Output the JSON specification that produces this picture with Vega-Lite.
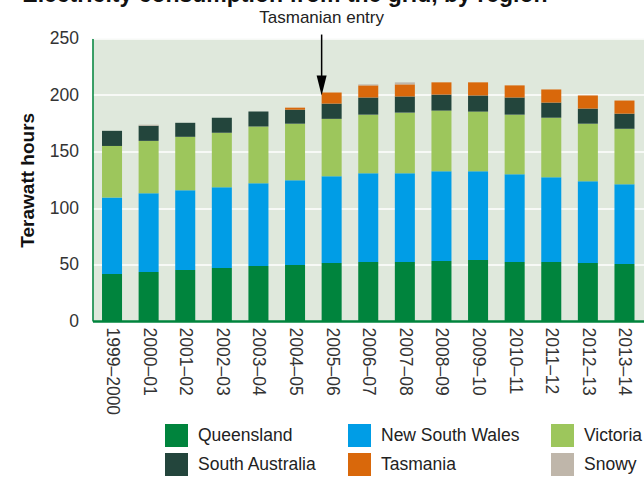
{
  "$schema": "https://vega.github.io/schema/vega-lite/v6.json",
  "autosize": {"type": "none"},
  "padding": {"left": 92.5, "top": 38.5, "right": 0, "bottom": 156},
  "width": 551.5,
  "height": 282.5,
  "background": "white",
  "title": {
    "text": "Electricity consumption from the grid, by region",
    "anchor": "start",
    "frame": "bounds",
    "font": "Liberation Sans",
    "fontSize": 23,
    "fontWeight": "bold",
    "color": "#111111",
    "offset": 10,
    "dx": 4,
    "dy": 8
  },
  "config": {
    "view": {"fill": "#dfe8dc", "stroke": null},
    "font": "Liberation Sans",
    "axis": {
      "labelFont": "Liberation Sans",
      "labelFontSize": 17.5,
      "labelColor": "#333333",
      "titleFont": "Liberation Sans",
      "domainColor": "#00843d",
      "ticks": false
    }
  },
  "layer": [
    {
      "data": {
        "values": [
          {"year": "1999–2000", "region": "Queensland", "twh": 41.5},
          {"year": "1999–2000", "region": "New South Wales", "twh": 67.9},
          {"year": "1999–2000", "region": "Victoria", "twh": 45.5},
          {"year": "1999–2000", "region": "South Australia", "twh": 13.4},
          {"year": "2000–01", "region": "Queensland", "twh": 43.3},
          {"year": "2000–01", "region": "New South Wales", "twh": 69.7},
          {"year": "2000–01", "region": "Victoria", "twh": 46.4},
          {"year": "2000–01", "region": "South Australia", "twh": 13.4},
          {"year": "2000–01", "region": "Snowy", "twh": 0.9},
          {"year": "2001–02", "region": "Queensland", "twh": 45.1},
          {"year": "2001–02", "region": "New South Wales", "twh": 70.5},
          {"year": "2001–02", "region": "Victoria", "twh": 47.4},
          {"year": "2001–02", "region": "South Australia", "twh": 12.4},
          {"year": "2002–03", "region": "Queensland", "twh": 46.9},
          {"year": "2002–03", "region": "New South Wales", "twh": 71.4},
          {"year": "2002–03", "region": "Victoria", "twh": 48.2},
          {"year": "2002–03", "region": "South Australia", "twh": 13.3},
          {"year": "2003–04", "region": "Queensland", "twh": 48.7},
          {"year": "2003–04", "region": "New South Wales", "twh": 73.2},
          {"year": "2003–04", "region": "Victoria", "twh": 50.2},
          {"year": "2003–04", "region": "South Australia", "twh": 13.2},
          {"year": "2004–05", "region": "Queensland", "twh": 49.6},
          {"year": "2004–05", "region": "New South Wales", "twh": 75.0},
          {"year": "2004–05", "region": "Victoria", "twh": 50.0},
          {"year": "2004–05", "region": "South Australia", "twh": 12.4},
          {"year": "2004–05", "region": "Tasmania", "twh": 1.8},
          {"year": "2005–06", "region": "Queensland", "twh": 51.3},
          {"year": "2005–06", "region": "New South Wales", "twh": 76.8},
          {"year": "2005–06", "region": "Victoria", "twh": 50.8},
          {"year": "2005–06", "region": "South Australia", "twh": 13.5},
          {"year": "2005–06", "region": "Tasmania", "twh": 9.8},
          {"year": "2006–07", "region": "Queensland", "twh": 52.2},
          {"year": "2006–07", "region": "New South Wales", "twh": 78.6},
          {"year": "2006–07", "region": "Victoria", "twh": 51.8},
          {"year": "2006–07", "region": "South Australia", "twh": 15.2},
          {"year": "2006–07", "region": "Tasmania", "twh": 10.7},
          {"year": "2006–07", "region": "Snowy", "twh": 0.9},
          {"year": "2007–08", "region": "Queensland", "twh": 52.2},
          {"year": "2007–08", "region": "New South Wales", "twh": 78.6},
          {"year": "2007–08", "region": "Victoria", "twh": 53.6},
          {"year": "2007–08", "region": "South Australia", "twh": 14.3},
          {"year": "2007–08", "region": "Tasmania", "twh": 10.7},
          {"year": "2007–08", "region": "Snowy", "twh": 1.8},
          {"year": "2008–09", "region": "Queensland", "twh": 53.1},
          {"year": "2008–09", "region": "New South Wales", "twh": 79.5},
          {"year": "2008–09", "region": "Victoria", "twh": 53.6},
          {"year": "2008–09", "region": "South Australia", "twh": 14.2},
          {"year": "2008–09", "region": "Tasmania", "twh": 10.8},
          {"year": "2009–10", "region": "Queensland", "twh": 54.0},
          {"year": "2009–10", "region": "New South Wales", "twh": 78.6},
          {"year": "2009–10", "region": "Victoria", "twh": 52.7},
          {"year": "2009–10", "region": "South Australia", "twh": 14.3},
          {"year": "2009–10", "region": "Tasmania", "twh": 11.6},
          {"year": "2010–11", "region": "Queensland", "twh": 52.2},
          {"year": "2010–11", "region": "New South Wales", "twh": 77.7},
          {"year": "2010–11", "region": "Victoria", "twh": 52.7},
          {"year": "2010–11", "region": "South Australia", "twh": 15.2},
          {"year": "2010–11", "region": "Tasmania", "twh": 10.7},
          {"year": "2011–12", "region": "Queensland", "twh": 52.2},
          {"year": "2011–12", "region": "New South Wales", "twh": 75.0},
          {"year": "2011–12", "region": "Victoria", "twh": 52.7},
          {"year": "2011–12", "region": "South Australia", "twh": 13.4},
          {"year": "2011–12", "region": "Tasmania", "twh": 11.6},
          {"year": "2012–13", "region": "Queensland", "twh": 51.3},
          {"year": "2012–13", "region": "New South Wales", "twh": 72.4},
          {"year": "2012–13", "region": "Victoria", "twh": 50.9},
          {"year": "2012–13", "region": "South Australia", "twh": 13.4},
          {"year": "2012–13", "region": "Tasmania", "twh": 11.6},
          {"year": "2013–14", "region": "Queensland", "twh": 50.4},
          {"year": "2013–14", "region": "New South Wales", "twh": 70.6},
          {"year": "2013–14", "region": "Victoria", "twh": 49.1},
          {"year": "2013–14", "region": "South Australia", "twh": 13.4},
          {"year": "2013–14", "region": "Tasmania", "twh": 11.6}
        ]
      },
      "transform": [
        {"window": [{"op": "row_number", "as": "stack_rank"}]}
      ],
      "mark": {"type": "bar"},
      "encoding": {
        "x": {
          "field": "year",
          "type": "nominal",
          "sort": null,
          "scale": {"paddingInner": 0.453, "paddingOuter": 0.26},
          "axis": {
            "title": null,
            "labelAngle": 90,
            "labelPadding": 6,
            "domainWidth": 2.5,
            "grid": false
          }
        },
        "y": {
          "field": "twh",
          "type": "quantitative",
          "stack": "zero",
          "scale": {"domain": [0, 250], "nice": false},
          "axis": {
            "title": "Terawatt hours",
            "titleFontSize": 19,
            "titleFontWeight": "bold",
            "titleColor": "#111111",
            "titlePadding": 12,
            "values": [0, 50, 100, 150, 200, 250],
            "labelPadding": 14,
            "domainWidth": 1.5,
            "grid": true,
            "gridColor": "#ffffff",
            "gridWidth": 1.5,
            "gridOpacity": 1
          }
        },
        "color": {
          "field": "region",
          "type": "nominal",
          "sort": ["Queensland", "New South Wales", "Victoria", "South Australia", "Tasmania", "Snowy"],
          "scale": {
            "domain": ["Queensland", "New South Wales", "Victoria", "South Australia", "Tasmania", "Snowy"],
            "range": ["#00843d", "#009de6", "#9dc65c", "#23453c", "#d9680b", "#bfb6aa"]
          },
          "legend": {
            "title": null,
            "orient": "none",
            "legendX": 72.5,
            "legendY": 385.5,
            "direction": "horizontal",
            "columns": 3,
            "columnPadding": 31,
            "rowPadding": 6,
            "symbolType": "square",
            "symbolSize": 529,
            "symbolStrokeWidth": 0,
            "symbolOpacity": 1,
            "labelFontSize": 17.5,
            "labelColor": "#222222",
            "labelOffset": 10,
            "labelLimit": 300
          }
        },
        "order": {"field": "stack_rank", "type": "quantitative"}
      }
    },
    {
      "data": {"values": [{}]},
      "mark": {"type": "rule", "color": "#000000", "strokeWidth": 1.5},
      "encoding": {
        "x": {"datum": "2005–06", "type": "nominal", "bandPosition": 0},
        "y": {"datum": 253.5, "type": "quantitative"},
        "y2": {"datum": 209}
      }
    },
    {
      "data": {"values": [{}]},
      "mark": {"type": "point", "shape": "M-0.5,-1L0.5,-1L0,1Z", "filled": true, "color": "#000000", "opacity": 1, "size": 400},
      "encoding": {
        "x": {"datum": "2005–06", "type": "nominal", "bandPosition": 0},
        "y": {"datum": 208.3, "type": "quantitative"}
      }
    },
    {
      "data": {"values": [{}]},
      "mark": {"type": "text", "text": "Tasmanian entry", "fontSize": 17, "baseline": "alphabetic", "align": "center", "color": "#222222"},
      "encoding": {
        "x": {"datum": "2005–06", "type": "nominal", "bandPosition": 0},
        "y": {"datum": 263.3, "type": "quantitative"}
      }
    }
  ]
}
